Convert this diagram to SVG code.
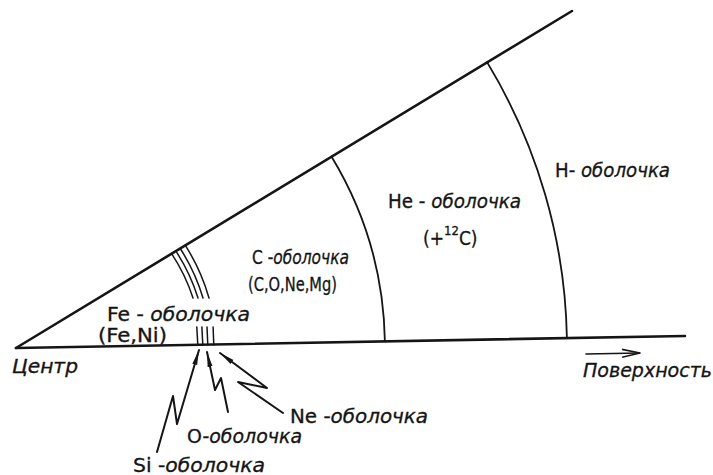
<svg xmlns="http://www.w3.org/2000/svg" width="713" height="475" viewBox="0 0 713 475">
<style>
.ln{fill:none;stroke:#151515;stroke-linecap:round;stroke-linejoin:round}
.ax{stroke-width:2.6}
.arc{stroke-width:1.8}
.th{stroke-width:1.5}
.ar{stroke-width:2}
text{font-family:"DejaVu Sans Condensed","DejaVu Sans","Liberation Sans",sans-serif;font-size:19px;fill:#151515;stroke:#151515;stroke-width:0.3}
.it{font-style:italic}
</style>
<defs>
<marker id="tip" markerUnits="userSpaceOnUse" markerWidth="20" markerHeight="10" refX="15" refY="4" orient="auto">
<path d="M0,1.5 L15,4 L0,6.5 Z" fill="#151515"/>
</marker>
<marker id="open" markerUnits="userSpaceOnUse" markerWidth="20" markerHeight="12" refX="18" refY="6" orient="auto">
<path d="M0,2 L18,6 L0,10" fill="none" stroke="#151515" stroke-width="1.6"/>
</marker>
</defs>
<rect width="713" height="475" fill="#fff"/>
<g id="frame">
<path class="ln ax" d="M16,348 L572,11"/>
<path class="ln ax" d="M16,348 L685,336"/>
</g>
<g id="shells">
<path id="h-boundary" class="ln arc" d="M487.2,62.4 A551,551 0 0 1 566.9,338.1"/>
<path id="he-boundary" class="ln arc" d="M331.6,156.7 A369,369 0 0 1 384.9,341.4"/>
<g id="thin-shells-upper">
<path class="ln th" d="M171.6,253.7 A182,182 0 0 1 193,298"/>
<path class="ln th" d="M175.9,251.1 A187,187 0 0 1 198,298"/>
<path class="ln th" d="M180.2,248.5 A192,192 0 0 1 203,298"/>
<path class="ln th" d="M185.3,245.4 A198,198 0 0 1 209,298"/>
</g>
<g id="thin-shells-lower">
<path class="ln th" d="M196.8,327 L197.8,345"/>
<path class="ln th" d="M201.9,327 L202.8,345"/>
<path class="ln th" d="M207,327 L207.8,345"/>
<path class="ln th" d="M213.1,327 L213.8,345"/>
</g>
</g>
<g id="labels">
<g id="center"><text x="12" y="373" class="it" textLength="66" lengthAdjust="spacingAndGlyphs">Центр</text></g>
<g id="fe-shell">
<text x="107" y="321" textLength="143" lengthAdjust="spacingAndGlyphs">Fe - <tspan class="it">оболочка</tspan></text>
<text x="98" y="342" textLength="69" lengthAdjust="spacingAndGlyphs">(Fe,Ni)</text>
</g>
<g id="c-shell">
<text x="252" y="264" font-size="20" textLength="97" lengthAdjust="spacingAndGlyphs">C -<tspan class="it">оболочка</tspan></text>
<text x="248" y="291" font-size="20" textLength="89" lengthAdjust="spacingAndGlyphs">(C,O,Ne,Mg)</text>
</g>
<g id="he-shell">
<text x="388" y="208" textLength="133" lengthAdjust="spacingAndGlyphs">He - <tspan class="it">оболочка</tspan></text>
<text x="423" y="245" font-size="22">(+<tspan dy="-10" font-size="13">12</tspan><tspan dy="10">C)</tspan></text>
</g>
<g id="h-shell"><text x="555" y="177" textLength="115" lengthAdjust="spacingAndGlyphs">H- <tspan class="it">оболочка</tspan></text></g>
<g id="surface">
<path class="ln" stroke-width="1.6" d="M586,354 L640,353" marker-end="url(#open)"/>
<text x="583" y="377" class="it" textLength="129" lengthAdjust="spacingAndGlyphs">Поверхность</text>
</g>
<g id="ne-shell"><text x="290" y="423" textLength="138" lengthAdjust="spacingAndGlyphs">Ne -<tspan class="it">оболочка</tspan></text></g>
<g id="o-shell"><text x="187" y="443" textLength="115" lengthAdjust="spacingAndGlyphs">O-<tspan class="it">оболочка</tspan></text></g>
<g id="si-shell"><text x="133" y="472" textLength="132" lengthAdjust="spacingAndGlyphs">Si -<tspan class="it">оболочка</tspan></text></g>
</g>
<g id="connectors">
<path class="ln ar" d="M157,452 L173,396 L177,424 L199,350" marker-end="url(#tip)"/>
<path class="ln ar" d="M228,412 L221,378 L215,390 L207,352" marker-end="url(#tip)"/>
<path class="ln ar" d="M283,413 L238,382 L267,388 L220,353" marker-end="url(#tip)"/>
</g>
</svg>
